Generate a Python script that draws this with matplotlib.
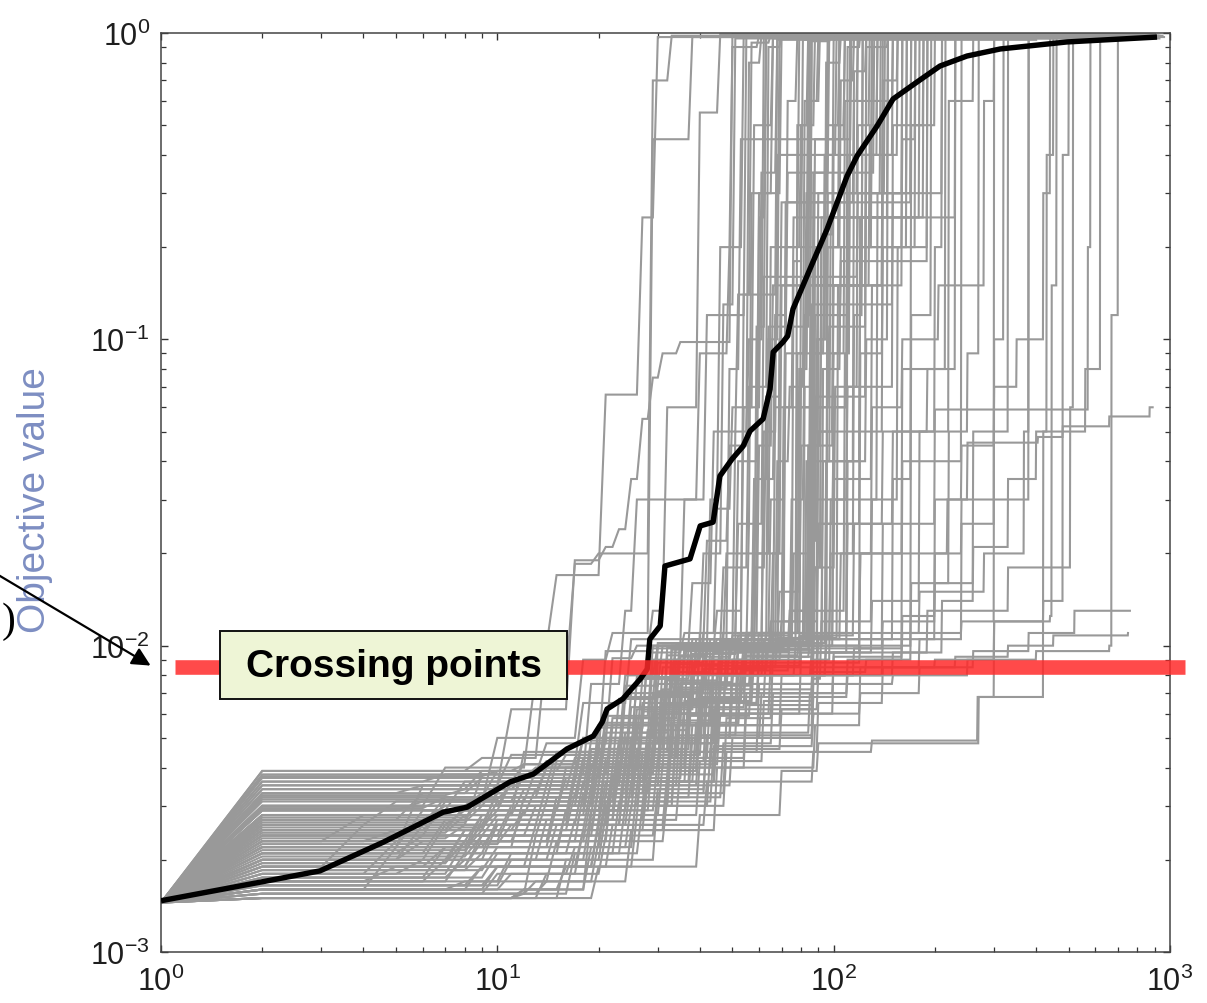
import numpy as np
import matplotlib
matplotlib.use('Agg')
import matplotlib.pyplot as plt
from matplotlib.patches import Rectangle, FancyArrowPatch

plt.rcParams['font.family'] = ['Liberation Sans', 'DejaVu Sans']
plt.rcParams['mathtext.fontset'] = 'custom'
plt.rcParams['mathtext.rm'] = 'Liberation Sans'
plt.rcParams['mathtext.default'] = 'regular'

# ---------------- data ----------------
mean_iter = [1.0, 1.97, 2.97, 4.57, 6.90, 8.13, 10.9, 12.8, 16.1, 19.3, 20.5, 21.2,
             23.6, 26.6, 27.9, 28.4, 30.5, 31.5, 37.4, 40.1, 43.8, 45.9, 49.9, 53.8,
             56.4, 61.7, 64.7, 66.1, 70.7, 73.0, 75.7, 86.8, 95.6, 109.6, 117.4,
             134.6, 150.2, 177, 207, 249, 313, 494, 915]
mean_value = [1.47e-3, 1.69e-3, 1.84e-3, 2.28e-3, 2.86e-3, 2.97e-3, 3.59e-3, 3.81e-3,
              4.60e-3, 5.07e-3, 5.63e-3, 6.21e-3, 6.70e-3, 7.78e-3, 8.39e-3, 1.05e-2,
              1.16e-2, 1.82e-2, 1.92e-2, 2.46e-2, 2.53e-2, 3.58e-2, 4.07e-2, 4.48e-2,
              5.02e-2, 5.50e-2, 6.88e-2, 9.09e-2, 9.80e-2, 0.1026, 0.1256, 0.179,
              0.229, 0.341, 0.397, 0.497, 0.609, 0.692, 0.780, 0.841, 0.887, 0.935, 0.970]

# each run: (iteration, best value reached from that iteration on); last entry = end of run
runs = [
    [(1,1.45e-3),(2,3.9e-3),(9,4.3e-3),(14,1.0e-2),(15,1.7e-2),(21,6.6e-2),(27,0.25),(30,0.97),(420,0.97)],
    [(1,1.45e-3),(2,2.2e-3),(6,3.5e-3),(11,6.2e-3),(17,1.9e-2),(21,2.1e-2),(23,2.4e-2),(25,3.5e-2),(27,5.5e-2),(29,0.075),(31,0.09),(35,0.098),(50,0.99),(600,0.99)],
    [(1,1.45e-3),(2,3.0e-3),(7,4.0e-3),(13,8e-3),(17,1.85e-2),(20,2.0e-2),(29,0.7),(33,0.98),(520,0.98)],
    [(1,1.45e-3),(2,2.6e-3),(5,3.1e-3),(10,5e-3),(18,9e-3),(22,1.1e-2),(29,0.45),(38,0.97),(480,0.97)],
    [(1,1.45e-3),(2,1.9e-3),(4,2.6e-3),(9,3.8e-3),(19,7.5e-3),(24,1.3e-2),(26,0.03),(42,0.12),(55,0.98),(700,0.98)],
    [(1,1.45e-3),(2,3.5e-3),(11,4.4e-3),(21,9.6e-3),(29,1.3e-2),(32,0.06),(40,0.55),(46,0.99),(800,0.99)],
    [(1,1.45e-3),(2,1.6e-3),(5,2.2e-3),(12,3.2e-3),(20,5.5e-3),(28,9.8e-3),(45,1.05e-2),(52,0.04),(60,0.3),(66,0.96),(350,0.96)],
    [(1,1.45e-3),(2,2.4e-3),(7,3.1e-3),(15,4.2e-3),(25,7e-3),(35,1.0e-2),(58,0.02),(70,0.15),(128,0.5),(135,0.97),(450,0.97)],
    [(1,1.45e-3),(2,1.5e-3),(12,1.6e-3),(19,2.2e-3),(26,3.5e-3),(35,6e-3),(48,1.0e-2),(80,0.08),(84,0.6),(90,0.98),(900,0.98)],
    [(1,1.45e-3),(2,2.9e-3),(8,3.6e-3),(18,5e-3),(30,1.0e-2),(43,0.03),(46,0.2),(50,0.9),(60,0.985),(300,0.985)],
    [(1,1.45e-3),(2,2.0e-3),(6,2.6e-3),(14,3.5e-3),(24,5.2e-3),(33,9.7e-3),(62,0.05),(68,0.4),(150,0.98),(640,0.98)],
    [(1,1.45e-3),(2,3.2e-3),(10,3.9e-3),(20,4.8e-3),(31,8.5e-3),(40,1.02e-2),(88,0.2),(160,0.45),(175,0.97),(550,0.97)],
    [(1,1.45e-3),(2,1.7e-3),(8,2.1e-3),(16,2.9e-3),(29,4.5e-3),(44,7.5e-3),(55,1.1e-2),(80,0.045),(100,0.5),(108,0.98),(760,0.98)],
    [(1,1.45e-3),(2,2.7e-3),(9,3.2e-3),(22,5.5e-3),(36,1.0e-2),(47,0.018),(56,0.07),(64,0.9),(70,0.99),(380,0.99)],
    [(1,1.45e-3),(2,2.3e-3),(4,2.8e-3),(12,4.5e-3),(26,7.8e-3),(38,1.05e-2),(75,0.03),(82,0.12),(86,0.97),(500,0.97)],
    [(1,1.45e-3),(2,1.55e-3),(13,2.4e-3),(21,3.0e-3),(33,5.0e-3),(50,9.0e-3),(70,1.02e-2),(87,0.35),(97,0.98),(820,0.98)],
    [(1,1.45e-3),(2,3.6e-3),(12,4.1e-3),(27,6.5e-3),(40,9.8e-3),(56,0.025),(62,0.16),(118,0.3),(142,0.96),(610,0.96)],
    [(1,1.45e-3),(2,2.1e-3),(7,2.7e-3),(17,3.8e-3),(30,6e-3),(41,1.0e-2),(100,0.06),(110,0.9),(120,0.99),(700,0.99)],
    [(1,1.45e-3),(2,2.5e-3),(8,3.0e-3),(19,4.6e-3),(34,8e-3),(52,1.0e-2),(65,0.012),(90,0.1),(95,0.8),(105,0.98),(480,0.98)],
    [(1,1.45e-3),(2,1.8e-3),(5,2.3e-3),(11,2.9e-3),(23,4.2e-3),(37,7e-3),(58,1.04e-2),(78,0.5),(84,0.99),(900,0.99)],
    [(1,1.45e-3),(2,3.3e-3),(9,3.7e-3),(24,6.8e-3),(39,9.9e-3),(66,0.02),(72,0.09),(105,0.18),(190,0.97),(560,0.97)],
    [(1,1.45e-3),(2,2.8e-3),(13,3.4e-3),(27,5.5e-3),(44,9.5e-3),(60,1.1e-2),(110,0.3),(118,0.98),(680,0.98)],
    [(1,1.45e-3),(2,1.65e-3),(10,1.9e-3),(20,2.6e-3),(32,3.8e-3),(45,6.5e-3),(60,9.8e-3),(85,0.022),(88,0.065),(125,0.97),(740,0.97)],
    [(1,1.45e-3),(2,2.2e-3),(6,2.9e-3),(16,4.0e-3),(29,7.0e-3),(47,1.03e-2),(54,0.14),(57,0.93),(65,0.99),(420,0.99)],
    [(1,1.45e-3),(2,3.0e-3),(10,3.5e-3),(21,5.2e-3),(30,8.8e-3),(42,1.0e-2),(93,0.04),(98,0.25),(130,0.98),(850,0.98)],
    [(1,1.45e-3),(2,2.6e-3),(7,3.2e-3),(18,4.3e-3),(35,7.2e-3),(55,9.9e-3),(72,0.28),(115,0.75),(125,0.98),(300,0.98)],
    [(1,1.45e-3),(2,1.9e-3),(9,2.4e-3),(22,3.6e-3),(38,5.5e-3),(53,8.5e-3),(68,1.06e-2),(103,0.15),(140,0.98),(630,0.98)],
    [(1,1.45e-3),(2,2.4e-3),(11,3.0e-3),(25,5.0e-3),(42,9.0e-3),(50,1.0e-2),(82,0.07),(86,0.94),(98,0.99),(720,0.99)],
    [(1,1.45e-3),(2,3.8e-3),(14,4.2e-3),(30,7.5e-3),(46,1.0e-2),(67,0.06),(76,0.25),(145,0.985),(530,0.985)],
    [(1,1.45e-3),(2,2.0e-3),(8,2.5e-3),(17,3.3e-3),(28,4.8e-3),(45,8.0e-3),(62,1.0e-2),(85,0.04),(115,0.6),(150,0.98),(950,0.98)],
    [(1,1.45e-3),(2,1.5e-3),(12,1.5e-3),(16,2.0e-3),(30,3.3e-3),(48,5.8e-3),(66,9.5e-3),(87,0.018),(92,0.22),(100,0.97),(470,0.97)],
    [(1,1.45e-3),(2,2.7e-3),(6,3.3e-3),(14,4.0e-3),(26,6.2e-3),(39,1.05e-2),(49,0.08),(53,0.45),(108,0.98),(660,0.98)],
    [(1,1.45e-3),(2,3.1e-3),(12,3.8e-3),(22,5.8e-3),(35,9.2e-3),(50,1.08e-2),(76,0.18),(81,0.95),(90,0.99),(880,0.99)],
    [(1,1.45e-3),(2,2.3e-3),(9,2.8e-3),(19,4.0e-3),(32,7.0e-3),(55,1.02e-2),(96,0.5),(104,0.985),(580,0.985)],
    [(1,1.45e-3),(2,1.75e-3),(7,2.2e-3),(15,3.0e-3),(27,4.4e-3),(41,6.8e-3),(63,9.7e-3),(87,0.03),(135,0.3),(165,0.98),(780,0.98)],
    [(1,1.45e-3),(2,2.9e-3),(11,3.6e-3),(20,4.6e-3),(33,8.2e-3),(44,1.0e-2),(59,0.11),(63,0.98),(360,0.98)],
    [(1,1.45e-3),(2,2.1e-3),(10,2.7e-3),(23,4.1e-3),(37,6.5e-3),(52,9.6e-3),(74,0.013),(108,0.09),(112,0.97),(690,0.97)],
    [(1,1.45e-3),(2,3.4e-3),(9,3.9e-3),(18,5.0e-3),(29,9.0e-3),(37,1.02e-2),(69,0.1),(73,0.35),(132,0.98),(520,0.98)],
    [(1,1.45e-3),(2,1.6e-3),(9,1.9e-3),(18,2.5e-3),(32,3.5e-3),(50,5.0e-3),(87,6e-3),(100,9.5e-3),(130,0.014),(180,0.05),(200,0.2),(210,0.97),(810,0.97)],
    [(1,1.45e-3),(2,2.4e-3),(13,3.0e-3),(28,4.5e-3),(60,7.5e-3),(90,1.05e-2),(150,0.035),(170,0.5),(185,0.98),(590,0.98)],
    [(1,1.45e-3),(2,1.95e-3),(8,2.5e-3),(20,3.5e-3),(40,5.5e-3),(70,8.0e-3),(95,1.0e-2),(120,0.02),(160,0.08),(230,0.97),(870,0.97)],
    [(1,1.45e-3),(2,2.6e-3),(10,3.3e-3),(25,5.0e-3),(50,7.0e-3),(87,1.1e-2),(110,0.025),(140,0.05),(220,0.6),(260,0.98),(730,0.98)],
    [(1,1.45e-3),(2,1.55e-3),(14,1.7e-3),(25,2.5e-3),(45,4.0e-3),(88,5.5e-3),(120,8.5e-3),(180,1.05e-2),(240,0.025),(300,0.98),(640,0.98)],
    [(1,1.45e-3),(2,1.5e-3),(12,1.5e-3),(20,1.9e-3),(40,2.8e-3),(70,3.9e-3),(90,4.8e-3),(270,6.8e-3),(420,0.05),(430,0.4),(450,0.97),(900,0.97)],
    [(1,1.45e-3),(2,2.0e-3),(10,2.6e-3),(22,3.6e-3),(45,5.2e-3),(85,7.0e-3),(110,9.0e-3),(160,1.25e-2),(200,0.016),(260,0.05),(330,0.98),(760,0.98)],
    [(1,1.45e-3),(2,1.7e-3),(11,2.1e-3),(24,3.0e-3),(48,4.5e-3),(90,6.5e-3),(140,8.5e-3),(230,9.2e-3),(330,1.0e-2),(450,1.08e-2),(750,1.1e-2)],
    [(1,1.45e-3),(2,2.2e-3),(9,2.8e-3),(20,4.0e-3),(40,6.0e-3),(87,9.5e-3),(120,0.02),(218,0.03),(250,0.046),(405,0.048),(480,0.052),(660,0.056),(870,0.06),(888,0.06)],
    [(1,1.45e-3),(2,2.8e-3),(12,3.4e-3),(26,5.5e-3),(50,8.5e-3),(87,1.05e-2),(140,0.025),(200,0.059),(570,0.2),(580,0.97),(800,0.97)],
    [(1,1.45e-3),(2,3.0e-3),(11,3.6e-3),(24,5.0e-3),(45,8.0e-3),(95,1.1e-2),(180,1.5e-2),(280,2.0e-2),(368,0.05),(380,0.96),(700,0.96)],
    [(1,1.45e-3),(2,2.1e-3),(9,2.7e-3),(21,4.2e-3),(42,6.8e-3),(87,8.5e-3),(200,9.0e-3),(300,1.2e-2),(440,1.25e-2),(445,0.15),(460,0.97),(850,0.97)],
    [(1,1.45e-3),(2,2.5e-3),(10,3.1e-3),(23,4.8e-3),(46,7.2e-3),(87,9.5e-3),(190,1.3e-2),(330,1.8e-2),(505,0.06),(515,0.96),(930,0.96)],
    [(1,1.45e-3),(2,1.8e-3),(8,2.3e-3),(19,3.2e-3),(38,5.0e-3),(87,7.5e-3),(150,8.0e-3),(250,9.0e-3),(400,9.6e-3),(660,1.0e-2),(670,0.12),(700,0.97),(960,0.97)],
    [(1,1.45e-3),(2,2.3e-3),(12,2.9e-3),(26,4.3e-3),(55,7.0e-3),(100,9.2e-3),(160,1.1e-2),(240,0.012),(300,0.1),(320,0.97),(620,0.97)],
    [(1,1.45e-3),(2,3.7e-3),(13,4.0e-3),(30,7.0e-3),(55,1.0e-2),(120,0.09),(140,0.2),(165,0.97),(560,0.97)],
    [(1,1.45e-3),(2,2.0e-3),(7,2.6e-3),(17,3.7e-3),(36,6.0e-3),(80,9.5e-3),(110,0.04),(125,0.1),(145,0.98),(710,0.98)],
    [(1,1.45e-3),(2,1.5e-3),(12,1.6e-3),(19,2.8e-3),(27,4.5e-3),(33,1.0e-2),(70,0.012),(78,0.06),(90,0.3),(96,0.98),(620,0.98)],
    [(1,1.45e-3),(2,1.6e-3),(8,1.7e-3),(15,2.3e-3),(22,3.8e-3),(29,6.0e-3),(40,1.1e-2),(65,0.03),(72,0.2),(80,0.5),(88,0.99),(700,0.99)],
    [(1,1.45e-3),(2,1.7e-3),(5,1.9e-3),(13,2.6e-3),(24,4.0e-3),(31,7.2e-3),(34,1.0e-2),(55,0.011),(58,0.035),(64,0.11),(85,0.98),(540,0.98)],
    [(1,1.45e-3),(2,3.9e-3),(5,3.9e-3),(12,4.1e-3),(18,6.5e-3),(25,1.05e-2),(48,0.02),(60,0.25),(63,0.98),(460,0.98)],
    [(1,1.45e-3),(2,1.55e-3),(10,1.8e-3),(17,2.2e-3),(25,3.0e-3),(34,5.5e-3),(50,8e-3),(86,9.5e-3),(88,0.05),(100,0.15),(125,0.4),(155,0.98),(820,0.98)],
    [(1,1.45e-3),(2,2.1e-3),(6,2.4e-3),(14,3.1e-3),(23,4.6e-3),(32,9.3e-3),(43,1.05e-2),(68,0.04),(74,0.07),(82,0.6),(91,0.99),(680,0.99)],
    [(1,1.45e-3),(2,2.5e-3),(7,2.9e-3),(16,3.7e-3),(26,5.8e-3),(34,9.0e-3),(41,1.1e-2),(52,0.025),(57,0.3),(70,0.97),(510,0.97)],
    [(1,1.45e-3),(2,1.85e-3),(9,2.1e-3),(17,2.7e-3),(28,3.9e-3),(40,6.5e-3),(60,8.8e-3),(87,1.0e-2),(93,0.08),(105,0.2),(130,0.97),(750,0.97)],
    [(1,1.45e-3),(2,3.3e-3),(6,3.5e-3),(15,4.5e-3),(24,8.0e-3),(30,1.0e-2),(38,0.016),(44,0.05),(52,0.14),(68,0.95),(400,0.95)],
    [(1,1.45e-3),(2,2.8e-3),(8,3.0e-3),(20,4.0e-3),(31,6.4e-3),(43,9.8e-3),(56,1.1e-2),(85,0.08),(88,0.45),(113,0.98),(900,0.98)],
    [(1,1.45e-3),(2,1.5e-3),(12,1.5e-3),(14,1.8e-3),(21,2.4e-3),(30,3.4e-3),(42,5.0e-3),(61,7.0e-3),(87,8.5e-3),(90,0.025),(100,0.05),(140,0.3),(170,0.98),(870,0.98)],
    [(1,1.45e-3),(2,2.3e-3),(5,2.5e-3),(10,3.4e-3),(19,4.9e-3),(27,7.8e-3),(35,1.02e-2),(62,0.035),(67,0.12),(73,0.6),(78,0.99),(590,0.99)],
    [(1,1.45e-3),(2,1.65e-3),(11,2.0e-3),(21,2.8e-3),(31,4.1e-3),(46,6.0e-3),(65,9.0e-3),(80,1.08e-2),(98,0.02),(115,0.12),(122,0.98),(780,0.98)],
    [(1,1.45e-3),(2,3.0e-3),(9,3.3e-3),(20,5.4e-3),(28,9.5e-3),(36,0.011),(45,0.028),(50,0.06),(58,0.5),(66,0.98),(430,0.98)],
    [(1,1.45e-3),(2,2.0e-3),(6,2.3e-3),(15,3.2e-3),(26,4.6e-3),(38,8.1e-3),(54,1.0e-2),(76,0.02),(86,0.09),(94,0.4),(102,0.985),(660,0.985)],
    [(1,1.45e-3),(2,2.7e-3),(7,3.0e-3),(18,4.1e-3),(29,6.9e-3),(39,9.8e-3),(63,0.011),(79,0.08),(83,0.3),(160,0.97),(560,0.97)],
    [(1,1.45e-3),(2,1.75e-3),(8,2.0e-3),(19,2.9e-3),(30,4.3e-3),(43,7.5e-3),(58,9.7e-3),(87,1.02e-2),(95,0.04),(120,0.25),(180,0.98),(880,0.98)],
    [(1,1.45e-3),(2,3.6e-3),(7,3.8e-3),(14,4.8e-3),(22,9.1e-3),(26,1.0e-2),(36,0.03),(40,0.09),(49,0.2),(54,0.97),(370,0.97)],
    [(1,1.45e-3),(2,2.2e-3),(10,2.6e-3),(22,3.8e-3),(33,6.0e-3),(48,9.5e-3),(70,1.1e-2),(90,0.05),(100,0.09),(108,0.6),(118,0.99),(720,0.99)],
    [(1,1.45e-3),(2,1.6e-3),(11,1.8e-3),(18,2.5e-3),(28,3.6e-3),(39,5.6e-3),(53,8.3e-3),(74,1.05e-2),(87,0.15),(140,0.7),(155,0.98),(640,0.98)],
    [(1,1.45e-3),(2,2.45e-3),(8,2.8e-3),(17,3.9e-3),(27,6.1e-3),(36,9.6e-3),(47,1.1e-2),(60,0.045),(66,0.15),(122,0.98),(490,0.98)],
    [(1,1.45e-3),(2,1.9e-3),(7,2.2e-3),(16,2.9e-3),(24,4.3e-3),(35,7.6e-3),(51,1.0e-2),(84,0.022),(89,0.1),(96,0.3),(138,0.97),(830,0.97)],
    [(1,1.45e-3),(2,3.4e-3),(12,3.7e-3),(21,5.6e-3),(32,9.9e-3),(50,1.05e-2),(64,0.1),(69,0.98),(480,0.98)],
    [(1,1.45e-3),(2,2.65e-3),(9,3.0e-3),(19,4.4e-3),(30,7.1e-3),(42,1.0e-2),(75,0.013),(90,0.2),(104,0.97),(790,0.97)],
    [(1,1.45e-3),(2,1.55e-3),(13,1.7e-3),(20,2.3e-3),(32,3.2e-3),(47,4.8e-3),(66,7.0e-3),(87,9.0e-3),(98,0.03),(110,0.07),(150,0.5),(200,0.98),(930,0.98)],
    [(1,1.45e-3),(2,2.9e-3),(6,3.1e-3),(13,3.9e-3),(21,5.9e-3),(29,1.0e-2),(45,0.013),(54,0.06),(61,0.35),(68,0.985),(600,0.985)],
    [(1,1.45e-3),(2,2.05e-3),(9,2.4e-3),(20,3.4e-3),(33,5.6e-3),(46,8.8e-3),(62,1.05e-2),(83,0.04),(88,0.12),(112,0.98),(770,0.98)],
    [(1,1.45e-3),(2,3.75e-3),(10,3.9e-3),(16,4.4e-3),(24,7.4e-3),(31,1.0e-2),(41,0.02),(47,0.13),(51,0.96),(330,0.96)],
    [(1,1.45e-3),(2,1.7e-3),(7,2.0e-3),(15,2.6e-3),(25,3.6e-3),(37,5.9e-3),(57,8.6e-3),(80,1.0e-2),(87,0.06),(97,0.11),(125,0.9),(145,0.985),(860,0.985)],
    [(1,1.45e-3),(2,2.35e-3),(8,2.6e-3),(18,3.6e-3),(28,5.3e-3),(38,9.4e-3),(52,1.08e-2),(71,0.06),(110,0.4),(135,0.98),(650,0.98)],
    [(1,1.45e-3),(2,3.15e-3),(11,3.5e-3),(23,4.9e-3),(33,8.7e-3),(47,1.02e-2),(59,0.02),(65,0.2),(79,0.97),(530,0.97)],
    [(1,1.45e-3),(2,1.6e-3),(12,1.6e-3),(16,1.9e-3),(26,2.8e-3),(40,4.2e-3),(62,6.6e-3),(87,7.8e-3),(92,0.012),(130,0.03),(155,0.2),(190,0.97),(900,0.97)],
    [(1,1.45e-3),(2,2.55e-3),(10,2.9e-3),(21,4.3e-3),(34,7.3e-3),(49,1.0e-2),(69,0.015),(80,0.2),(175,0.99),(700,0.99)],
    [(1,1.45e-3),(2,1.85e-3),(10,2.2e-3),(21,3.1e-3),(34,5.1e-3),(52,8.0e-3),(77,1.0e-2),(88,0.018),(101,0.07),(118,0.5),(128,0.98),(800,0.98)],
    [(1,1.45e-3),(2,2.95e-3),(7,3.2e-3),(14,4.0e-3),(23,6.7e-3),(30,1.02e-2),(42,0.022),(49,0.045),(56,0.8),(61,0.99),(450,0.99)],
    [(1,1.45e-3),(2,2.15e-3),(9,2.5e-3),(19,3.5e-3),(31,5.7e-3),(44,9.0e-3),(67,1.03e-2),(86,0.13),(150,0.3),(210,0.98),(690,0.98)],
    [(1,1.45e-3),(2,1.5e-3),(12,1.55e-3),(17,2.1e-3),(27,3.0e-3),(43,4.6e-3),(70,6.2e-3),(90,8.0e-3),(115,9.8e-3),(160,0.04),(240,0.97),(850,0.97)],
    [(1,1.45e-3),(2,3.5e-3),(12,3.8e-3),(25,6.3e-3),(37,9.7e-3),(53,1.1e-2),(78,0.09),(84,0.97),(610,0.97)],
    [(1,1.45e-3),(2,2.75e-3),(9,3.1e-3),(20,4.6e-3),(32,7.7e-3),(46,1.04e-2),(58,0.018),(63,0.065),(70,0.28),(170,0.985),(570,0.985)],
    [(1,1.45e-3),(2,1.95e-3),(8,2.3e-3),(18,3.3e-3),(29,4.9e-3),(41,8.4e-3),(64,1.0e-2),(87,0.025),(120,0.25),(185,0.97),(740,0.97)],
    [(1,1.45e-3),(2,2.25e-3),(11,2.6e-3),(24,4.0e-3),(37,6.7e-3),(54,9.3e-3),(79,1.07e-2),(100,0.035),(130,0.15),(160,0.98),(890,0.98)],
    [(1,1.45e-3),(2,3.25e-3),(8,3.4e-3),(17,4.3e-3),(26,7.9e-3),(34,1.0e-2),(51,0.05),(56,0.1),(62,0.97),(410,0.97)],
    [(1,1.45e-3),(2,1.8e-3),(6,2.0e-3),(14,2.7e-3),(23,3.9e-3),(36,6.3e-3),(55,9.2e-3),(85,1.02e-2),(96,0.2),(105,0.7),(115,0.98),(760,0.98)],
    [(1,1.45e-3),(2,2.5e-3),(12,2.9e-3),(25,4.4e-3),(40,7.4e-3),(57,1.0e-2),(84,0.045),(92,0.25),(230,0.98),(670,0.98)],
    [(1,1.45e-3),(2,1.65e-3),(9,1.9e-3),(20,2.7e-3),(35,4.0e-3),(55,6.4e-3),(87,8.8e-3),(120,1.0e-2),(170,0.12),(195,0.98),(920,0.98)],
    [(1,1.45e-3),(2,1.6e-3),(10,1.9e-3),(22,2.6e-3),(42,3.6e-3),(87,4.5e-3),(130,4.9e-3),(268,6.8e-3),(300,0.012),(420,0.014),(480,0.4),(500,0.97),(850,0.97)],
    [(1,1.45e-3),(2,2.2e-3),(9,2.6e-3),(21,3.6e-3),(45,5.5e-3),(87,8.0e-3),(150,9.5e-3),(210,1.4e-2),(260,2.1e-2),(330,0.035),(400,0.05),(560,0.08),(620,0.97),(900,0.97)],
    [(1,1.45e-3),(2,1.75e-3),(10,2.1e-3),(23,3.1e-3),(44,4.7e-3),(87,6.0e-3),(120,7.0e-3),(180,8.5e-3),(260,9.6e-3),(380,1.1e-2),(520,1.3e-2),(760,1.3e-2)],
    [(1,1.45e-3),(2,2.9e-3),(9,3.2e-3),(20,4.5e-3),(40,7.5e-3),(87,9.8e-3),(140,1.2e-2),(200,0.03),(240,0.045),(300,0.07),(350,0.1),(420,0.3),(440,0.97),(800,0.97)],
    [(1,1.45e-3),(2,2.4e-3),(10,2.8e-3),(22,4.0e-3),(44,6.2e-3),(87,8.2e-3),(125,9.0e-3),(170,1.6e-2),(220,0.05),(250,0.09),(270,0.97),(700,0.97)],
    [(1,1.45e-3),(2,1.9e-3),(9,2.3e-3),(21,3.3e-3),(42,5.1e-3),(87,6.8e-3),(110,8.0e-3),(140,1.05e-2),(200,0.02),(240,0.03),(380,0.97),(880,0.97)],
    [(1,1.45e-3),(2,3.2e-3),(10,3.5e-3),(21,5.0e-3),(38,8.6e-3),(60,1.05e-2),(105,0.02),(130,0.06),(160,0.1),(205,0.15),(280,0.6),(300,0.98),(780,0.98)],
    [(1,1.45e-3),(2,2.6e-3),(8,2.9e-3),(19,4.1e-3),(36,6.6e-3),(58,9.2e-3),(87,1.08e-2),(115,0.025),(150,0.05),(190,0.08),(215,0.97),(740,0.97)],
]

threshold = 8.5e-3
x_ticks = [1, 10, 100, 1000]
x_tick_labels = [r'$10^{0}$', r'$10^{1}$', r'$10^{2}$', r'$10^{3}$']
y_ticks = [1e-3, 1e-2, 1e-1, 1]
y_tick_labels = [r'$10^{-3}$', r'$10^{-2}$', r'$10^{-1}$', r'$10^{0}$']
y_label = 'Objective value'
box_text = 'Crossing points'

# ---------------- figure ----------------
W, H = 1207, 1004
fig = plt.figure(figsize=(W / 100, H / 100), dpi=100)
ax = fig.add_axes([161 / W, 51 / H, 1009 / W, 919 / H])
ax.set_xscale('log')
ax.set_yscale('log')

for run in runs:
    xb = np.array([p[0] for p in run])
    yb = np.array([p[1] for p in run])
    it = np.arange(1, xb[-1] + 1)
    idx = np.searchsorted(xb, it, side='right') - 1
    ax.plot(it, yb[idx], color='#999999', lw=1.5, solid_joinstyle='miter', zorder=2)

ax.plot(mean_iter, mean_value, color='black', lw=3.9, zorder=4,
        solid_capstyle='butt', solid_joinstyle='round')

ax.axhline(threshold, xmin=14 / 1009, xmax=1024 / 1009, color='#FF2A2A', alpha=0.85,
           lw=10.5, clip_on=False, zorder=5, solid_capstyle='butt')

ax.set_xlim(1, 1000)
ax.set_ylim(1e-3, 1)
ax.set_xticks(x_ticks)
ax.set_xticklabels(x_tick_labels)
ax.set_yticks(y_ticks)
ax.set_yticklabels(y_tick_labels)
ax.tick_params(which='both', direction='in', top=True, right=True, color='#333333')
ax.tick_params(which='major', length=5, width=1.0, labelsize=22, labelcolor='#1e1e1e')
ax.tick_params(which='minor', length=3.5, width=0.9)
ax.tick_params(axis='x', which='major', pad=10)
ax.tick_params(axis='y', which='major', pad=8)
for s in ax.spines.values():
    s.set_color('#444444')
    s.set_linewidth(1.1)

# y label (overlay text)
fig.text(35 / W, 1 - 500 / H, y_label, rotation=90, ha='center', va='center',
         fontsize=28, color='#7D8EC2')

# cut-off parenthesis at the left edge
fig.text(9 / W, 1 - 622 / H, ')', ha='center', va='center', fontsize=30,
         family=['Liberation Serif', 'DejaVu Serif'], color='black')

# arrow
fig.add_artist(FancyArrowPatch(
    posA=(-5, H - 574), posB=(153, H - 668), transform=None,
    arrowstyle='-|>', mutation_scale=28, color='black', lw=1.6, zorder=10))

# text box
fig.add_artist(Rectangle((220 / W, 1 - 700 / H), 347 / W, 68 / H, transform=fig.transFigure,
                         facecolor='#EEF5D6', edgecolor='#111111', lw=1.4, zorder=11))
fig.text(394 / W, 1 - 667 / H, box_text, ha='center', va='center', fontsize=28,
         fontweight='bold', color='black', zorder=12)

fig.savefig('out.png', dpi=100)
